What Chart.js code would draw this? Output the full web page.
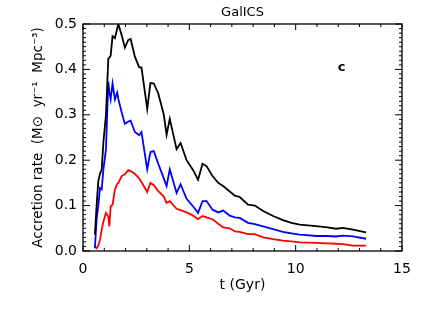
<!DOCTYPE html>
<html>
<head>
<meta charset="utf-8">
<script src="https://cdn.jsdelivr.net/npm/chart.js@4"></script>
<style>
  html, body { margin: 0; padding: 0; background: #fff; }
</style>
</head>
<body>
<canvas id="grafico" width="437" height="312"></canvas>
<script>
const tGyr = [0.56, 0.64, 0.72, 0.80, 0.88, 0.96, 1.08, 1.19, 1.24, 1.30, 1.39, 1.50, 1.61, 1.66, 1.82, 1.97, 2.13, 2.24, 2.44, 2.64, 2.75,
    3.02, 3.17, 3.33, 3.54, 3.80, 3.93, 4.08, 4.40, 4.59, 4.87, 5.18, 5.41, 5.62, 5.81, 6.09, 6.36, 6.59, 6.90, 7.14, 7.37,
    7.76, 8.08, 8.47, 8.94, 9.40, 9.80, 10.19, 10.97, 11.50, 11.90, 12.22, 12.69, 13.31]
const rateBlack = [0.036, 0.100, 0.154, 0.170, 0.180, 0.240, 0.300, 0.424, 0.426, 0.430, 0.473, 0.469, 0.490, 0.500, 0.475, 0.448, 0.465, 0.467, 0.428, 0.405, 0.404,
    0.313, 0.370, 0.369, 0.347, 0.300, 0.256, 0.291, 0.224, 0.238, 0.200, 0.178, 0.157, 0.192, 0.187, 0.165, 0.150, 0.143, 0.131, 0.122, 0.119,
    0.102, 0.100, 0.088, 0.077, 0.068, 0.062, 0.058, 0.055, 0.052, 0.049, 0.051, 0.047, 0.041]
const rateBlue = [0.006, 0.070, 0.100, 0.139, 0.136, 0.180, 0.224, 0.373, 0.350, 0.334, 0.369, 0.334, 0.349, 0.335, 0.305, 0.280, 0.285, 0.287, 0.262, 0.255, 0.262,
    0.180, 0.218, 0.220, 0.192, 0.160, 0.143, 0.180, 0.128, 0.147, 0.115, 0.098, 0.084, 0.110, 0.110, 0.091, 0.085, 0.089, 0.078, 0.074, 0.073,
    0.062, 0.059, 0.054, 0.048, 0.042, 0.039, 0.036, 0.033, 0.033, 0.032, 0.034, 0.032, 0.027]
const rateRed = [0.010, 0.006, 0.012, 0.025, 0.047, 0.065, 0.084, 0.076, 0.054, 0.098, 0.102, 0.135, 0.148, 0.150, 0.165, 0.169, 0.178, 0.176, 0.170, 0.160, 0.152,
    0.130, 0.150, 0.145, 0.132, 0.120, 0.106, 0.110, 0.093, 0.090, 0.085, 0.078, 0.070, 0.077, 0.074, 0.070, 0.060, 0.052, 0.050, 0.043, 0.042,
    0.037, 0.037, 0.030, 0.026, 0.023, 0.021, 0.019, 0.018, 0.017, 0.016, 0.015, 0.012, 0.012]
const xTicks = [0, 5, 10, 15]
const yTicks = [0.0, 0.1, 0.2, 0.3, 0.4, 0.5]
const chartTitle = 'GalICS'
const panelLabel = 'c'

const fonte = '"DejaVu Sans", sans-serif'

function pontos(valores) {
    return tGyr.map((t, i) => ({ x: t, y: valores[i] }))
}

function serie(valores, cor) {
    return {
        data: pontos(valores),
        borderColor: cor,
        borderWidth: 1.8,
        pointRadius: 0,
        tension: 0,
        fill: false
    }
}

// box, inward ticks on all four sides, title and panel letter, IDL style
const eixosIDL = {
    id: 'eixosIDL',
    afterDraw(chart) {
        const { ctx, chartArea: a, scales: { x, y } } = chart
        ctx.save()
        ctx.strokeStyle = '#000'
        ctx.lineWidth = 1.3
        ctx.strokeRect(a.left, a.top, a.right - a.left, a.bottom - a.top)
        ctx.beginPath()
        for (let v = 0; v <= 15; v++) {
            const px = x.getPixelForValue(v)
            const len = v % 5 === 0 ? 6 : 3
            ctx.moveTo(px, a.bottom); ctx.lineTo(px, a.bottom - len)
            ctx.moveTo(px, a.top); ctx.lineTo(px, a.top + len)
        }
        for (let i = 0; i <= 50; i++) {
            const py = y.getPixelForValue(i / 100)
            const len = i % 10 === 0 ? 7 : 3
            ctx.moveTo(a.left, py); ctx.lineTo(a.left + len, py)
            ctx.moveTo(a.right, py); ctx.lineTo(a.right - len, py)
        }
        ctx.lineWidth = 1
        ctx.stroke()

        ctx.fillStyle = '#000'
        ctx.textAlign = 'center'
        ctx.textBaseline = 'middle'
        ctx.font = '13px ' + fonte
        ctx.fillText(chartTitle, (a.left + a.right) / 2, 13)
        ctx.font = 'bold 13px ' + fonte
        ctx.fillText(panelLabel, x.getPixelForValue(12.16), y.getPixelForValue(0.405))
        ctx.restore()
    }
}

new Chart(document.getElementById('grafico'), {
    type: 'line',
    data: {
        datasets: [serie(rateBlack, '#000000'), serie(rateBlue, '#0000ff'), serie(rateRed, '#ff0000')]
    },
    options: {
        responsive: false,
        animation: false,
        devicePixelRatio: 1,
        layout: { padding: { top: 24, right: 35, bottom: 0, left: 0 } },
        plugins: { legend: { display: false }, tooltip: { enabled: false } },
        scales: {
            x: {
                type: 'linear',
                min: 0,
                max: 15,
                afterFit: (s) => { s.height = 61 },
                afterBuildTicks: (s) => { s.ticks = xTicks.map(v => ({ value: v })) },
                grid: { display: false, drawTicks: false },
                border: { display: false },
                ticks: { color: '#000', font: { family: fonte, size: 14 }, padding: 10, maxRotation: 0 },
                title: { display: true, text: 't (Gyr)', color: '#000', font: { family: fonte, size: 14 }, padding: { top: 0, bottom: 18 } }
            },
            y: {
                min: 0,
                max: 0.5,
                afterFit: (s) => { s.width = 83 },
                afterBuildTicks: (s) => { s.ticks = yTicks.map(v => ({ value: v })) },
                grid: { display: false, drawTicks: false },
                border: { display: false },
                ticks: { color: '#000', font: { family: fonte, size: 14 }, padding: 6, callback: (v) => v.toFixed(1) },
                title: { display: true, text: 'Accretion rate  (M\u2299  yr\u207B\u00B9  Mpc\u207B\u00B3)', color: '#000', font: { family: fonte, size: 13.5 }, padding: { top: 30, bottom: 0 } }
            }
        }
    },
    plugins: [eixosIDL]
})
</script>
</body>
</html>
